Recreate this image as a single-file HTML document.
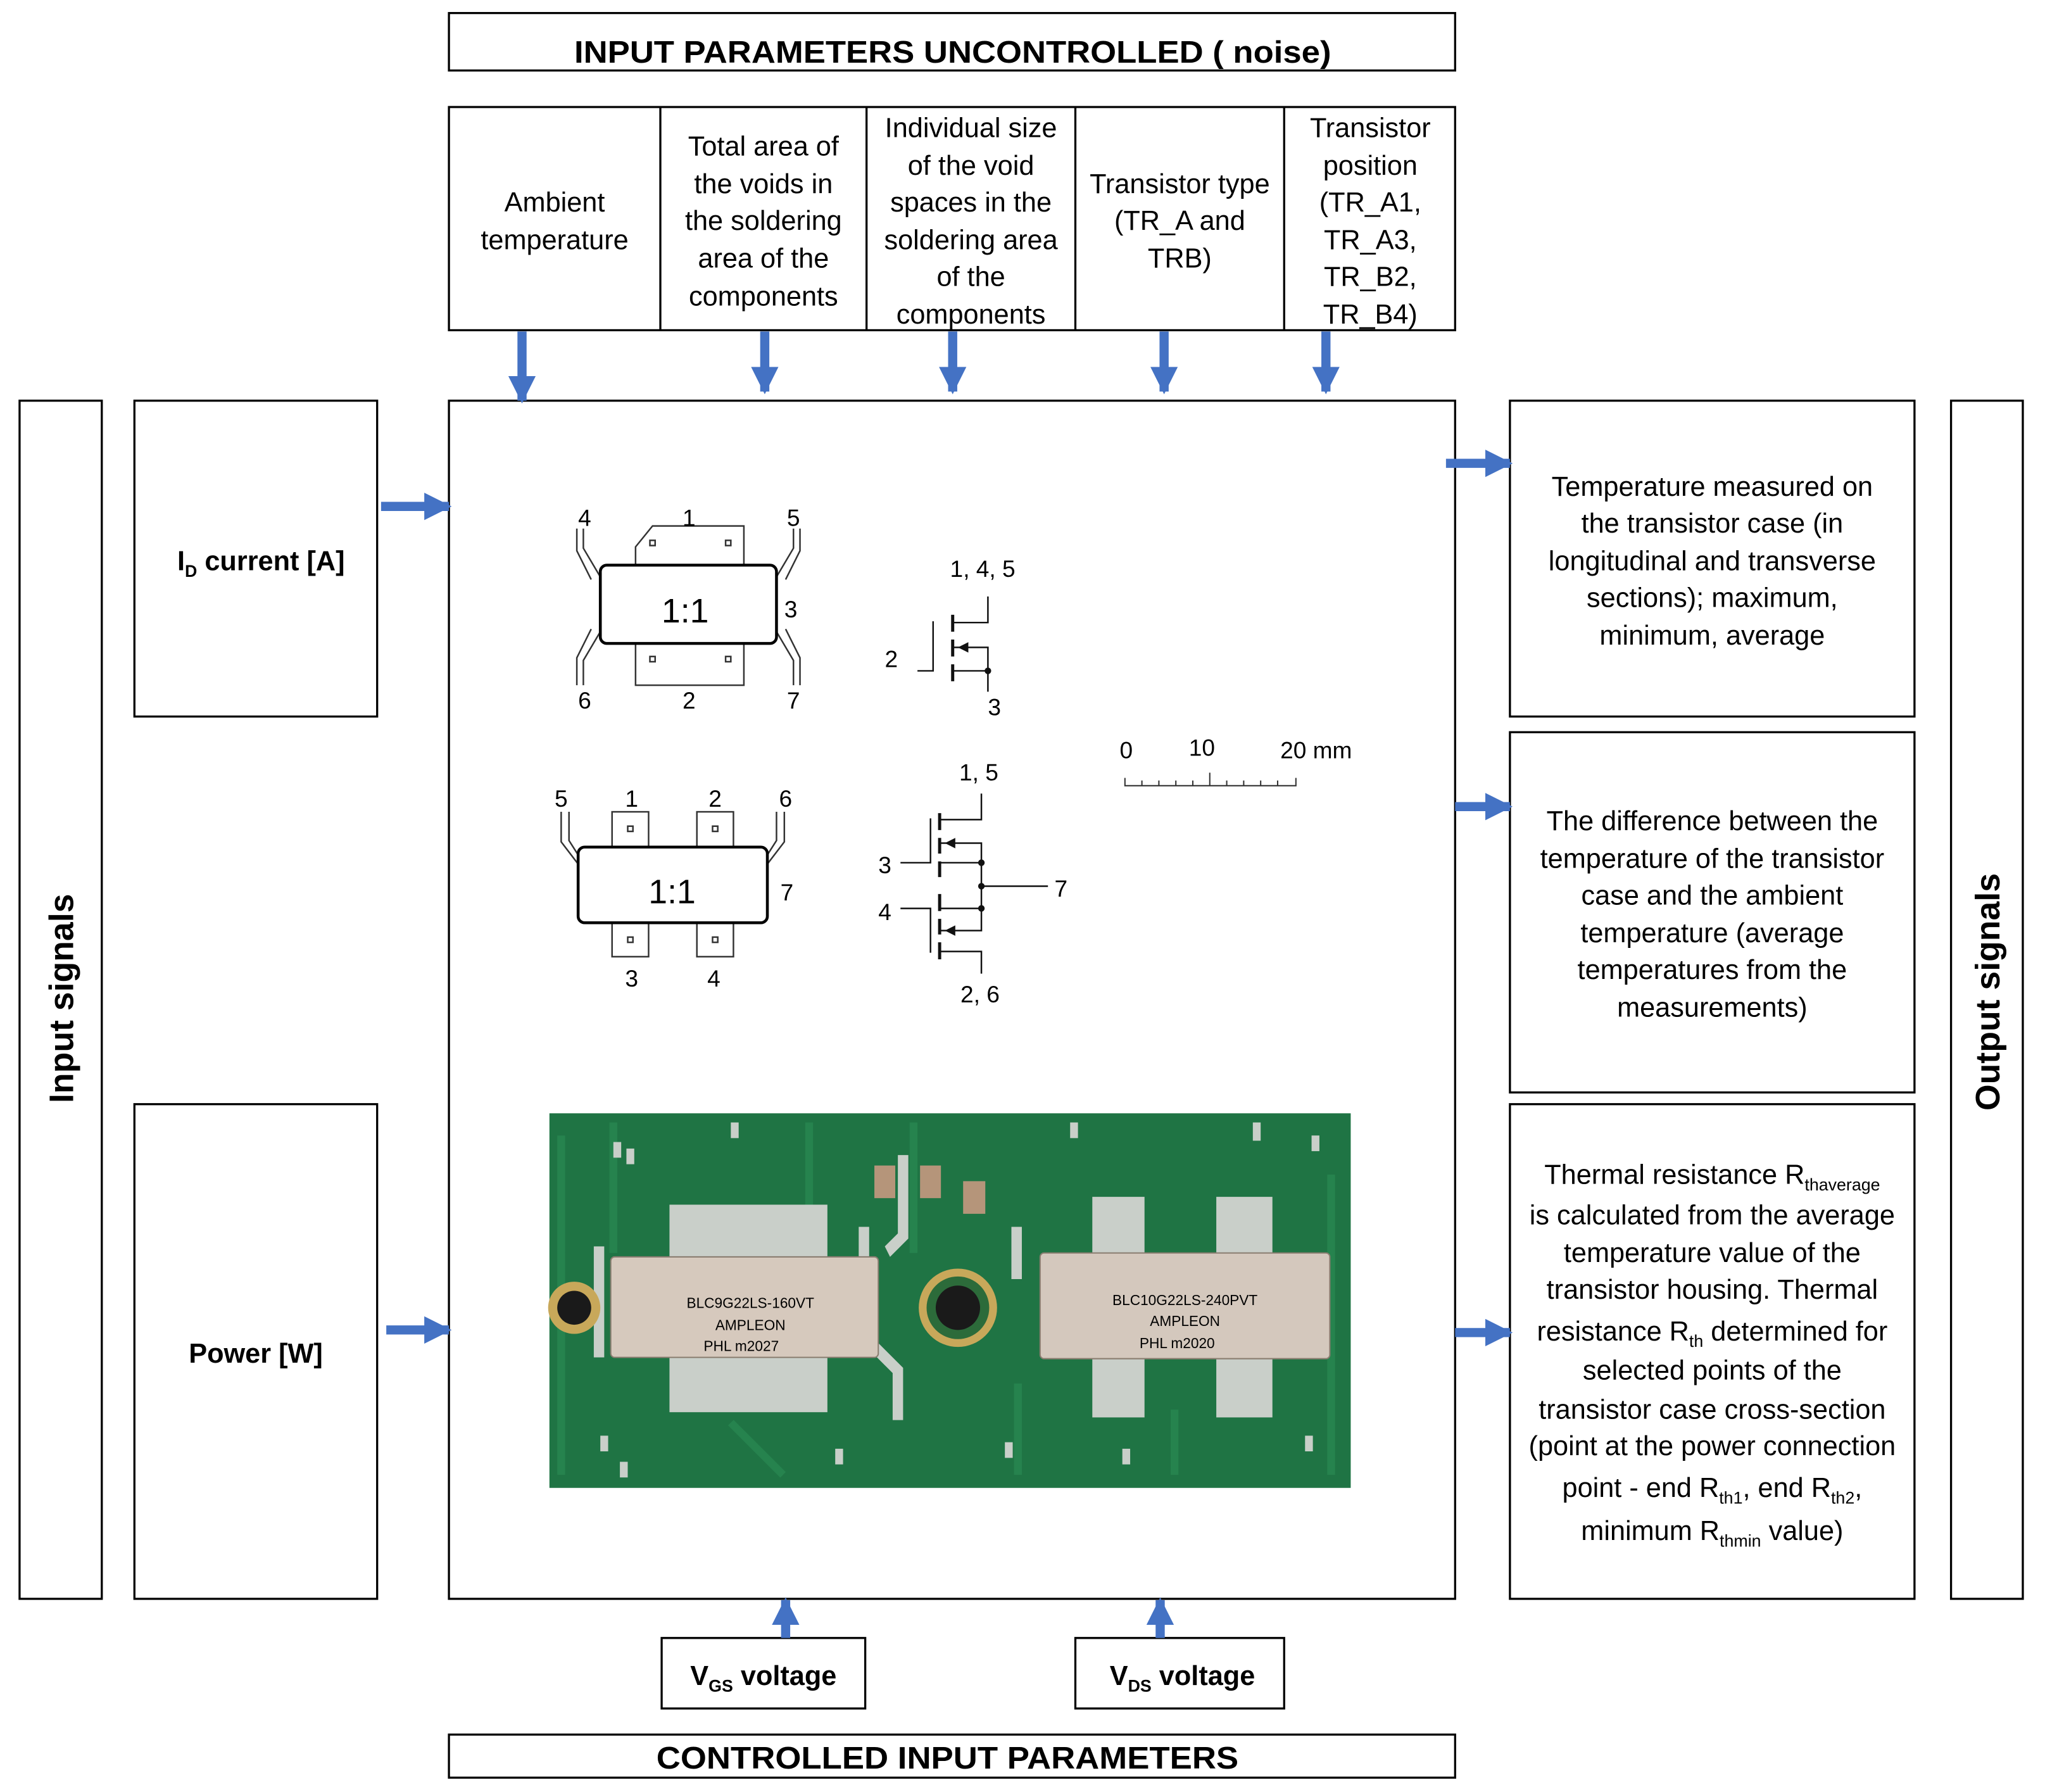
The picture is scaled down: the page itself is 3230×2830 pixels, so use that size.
<!DOCTYPE html>
<html><head><meta charset="utf-8"><style>
html,body{margin:0;padding:0;background:#fff}
svg{display:block}
text{font-family:"Liberation Sans",Arial,sans-serif;fill:#000}
</style></head><body>
<svg width="3230" height="2830" viewBox="0 0 1567 1373" preserveAspectRatio="none" xmlns="http://www.w3.org/2000/svg">
<defs>
<marker id="ah" viewBox="0 0 10 10" refX="9" refY="5" markerWidth="3" markerHeight="3" orient="auto" markerUnits="strokeWidth">
<path d="M0,0 L10,5 L0,10 z" fill="#4472C4"/></marker>
</defs>
<g fill="none" stroke="#000" stroke-width="1.6">
<rect x="344" y="10" width="771" height="44"/>
<rect x="344" y="82" width="771" height="171"/>
<line x1="506" y1="82" x2="506" y2="253"/>
<line x1="664" y1="82" x2="664" y2="253"/>
<line x1="824" y1="82" x2="824" y2="253"/>
<line x1="984" y1="82" x2="984" y2="253"/>
<rect x="344" y="307" width="771" height="918"/>
<rect x="15" y="307" width="63" height="918"/>
<rect x="103" y="307" width="186" height="242"/>
<rect x="103" y="846" width="186" height="379"/>
<rect x="1157" y="307" width="310" height="242"/>
<rect x="1157" y="561" width="310" height="276"/>
<rect x="1157" y="846" width="310" height="379"/>
<rect x="1495" y="307" width="55" height="918"/>
<rect x="507" y="1255" width="156" height="54"/>
<rect x="824" y="1255" width="160" height="54"/>
<rect x="344" y="1329" width="771" height="33"/>
</g>
<g stroke="#4472C4" stroke-width="7" fill="none" marker-end="url(#ah)">
<line x1="400" y1="254" x2="400" y2="307"/>
<line x1="586" y1="254" x2="586" y2="300"/>
<line x1="730" y1="254" x2="730" y2="300"/>
<line x1="892" y1="254" x2="892" y2="300"/>
<line x1="1016" y1="254" x2="1016" y2="300"/>
<line x1="292" y1="388" x2="344" y2="388"/>
<line x1="296" y1="1019" x2="344" y2="1019"/>
<line x1="1108" y1="355" x2="1157" y2="355"/>
<line x1="1115" y1="618" x2="1157" y2="618"/>
<line x1="1115" y1="1021" x2="1157" y2="1021"/>
<line x1="602" y1="1255" x2="602" y2="1226"/>
<line x1="889" y1="1255" x2="889" y2="1226"/>
</g>
<text x="730" y="48" font-size="24" font-weight="bold" text-anchor="middle" textLength="580" lengthAdjust="spacingAndGlyphs">INPUT PARAMETERS UNCONTROLLED ( noise)</text>
<text x="726" y="1355" font-size="24" font-weight="bold" text-anchor="middle" textLength="446" lengthAdjust="spacingAndGlyphs">CONTROLLED INPUT PARAMETERS</text>
<g font-size="21" text-anchor="middle">
<text x="425" y="162">Ambient</text><text x="425" y="191">temperature</text>
<text x="585" y="119">Total area of</text><text x="585" y="148">the voids in</text><text x="585" y="176">the soldering</text><text x="585" y="205">area of the</text><text x="585" y="234">components</text>
<text x="744" y="105">Individual size</text><text x="744" y="134">of the void</text><text x="744" y="162">spaces in the</text><text x="744" y="191">soldering area</text><text x="744" y="219">of the</text><text x="744" y="248">components</text>
<text x="904" y="148">Transistor type</text><text x="904" y="176">(TR_A and</text><text x="904" y="205">TRB)</text>
<text x="1050" y="105">Transistor</text><text x="1050" y="134">position</text><text x="1050" y="162">(TR_A1,</text><text x="1050" y="191">TR_A3,</text><text x="1050" y="219">TR_B2,</text><text x="1050" y="248">TR_B4)</text>
<text x="1312" y="380">Temperature measured on</text><text x="1312" y="408">the transistor case (in</text><text x="1312" y="437">longitudinal and transverse</text><text x="1312" y="465">sections); maximum,</text><text x="1312" y="494">minimum, average</text>
<text x="1312" y="636">The difference between the</text><text x="1312" y="665">temperature of the transistor</text><text x="1312" y="693">case and the ambient</text><text x="1312" y="722">temperature (average</text><text x="1312" y="750">temperatures from the</text><text x="1312" y="779">measurements)</text>
<text x="1312" y="907">Thermal resistance R<tspan font-size="13" dy="5">thaverage</tspan></text>
<text x="1312" y="938">is calculated from the average</text><text x="1312" y="967">temperature value of the</text><text x="1312" y="995">transistor housing. Thermal</text>
<text x="1312" y="1027">resistance R<tspan font-size="13" dy="5">th</tspan><tspan dy="-5"> determined for</tspan></text>
<text x="1312" y="1057">selected points of the</text><text x="1312" y="1087">transistor case cross-section</text><text x="1312" y="1115">(point at the power connection</text>
<text x="1312" y="1147">point - end R<tspan font-size="13" dy="5">th1</tspan><tspan dy="-5">, end R</tspan><tspan font-size="13" dy="5">th2</tspan><tspan dy="-5">,</tspan></text>
<text x="1312" y="1180">minimum R<tspan font-size="13" dy="5">thmin</tspan><tspan dy="-5"> value)</tspan></text>
</g>
<g font-size="21" font-weight="bold" text-anchor="middle">
<text x="200" y="437">I<tspan font-size="13" dy="5">D</tspan><tspan dy="-5"> current [A]</tspan></text>
<text x="196" y="1044">Power [W]</text>
<text x="585" y="1291">V<tspan font-size="13" dy="5">GS</tspan><tspan dy="-5"> voltage</tspan></text>
<text x="906" y="1291">V<tspan font-size="13" dy="5">DS</tspan><tspan dy="-5"> voltage</tspan></text>
</g>
<text transform="translate(56,765) rotate(-90)" font-size="26" font-weight="bold" text-anchor="middle">Input signals</text>
<text transform="translate(1532,760) rotate(-90)" font-size="26" font-weight="bold" text-anchor="middle">Output signals</text>

<g fill="none" stroke="#333" stroke-width="1.2">
<path d="M487,433 L487,419 L500,403 L570,403 L570,433"/>
<rect x="487" y="493" width="83" height="32"/>
<rect x="498" y="414" width="4" height="4"/><rect x="556" y="414" width="4" height="4"/>
<rect x="498" y="503" width="4" height="4"/><rect x="556" y="503" width="4" height="4"/>
<path d="M460,442 L447,420 L447,405 M453,444 L442,422 L442,405"/>
<path d="M595,442 L608,420 L608,405 M602,444 L613,422 L613,405"/>
<path d="M460,484 L447,506 L447,525 M453,482 L442,504 L442,525"/>
<path d="M595,484 L608,506 L608,525 M602,482 L613,504 L613,525"/>
<rect x="460" y="433" width="135" height="60" rx="5" stroke="#000" stroke-width="2.2"/>
</g>
<g font-size="18" text-anchor="middle">
<text x="448" y="403">4</text><text x="528" y="403">1</text><text x="608" y="403">5</text>
<text x="606" y="473">3</text><text x="448" y="543">6</text><text x="528" y="543">2</text><text x="608" y="543">7</text>
<text x="525" y="477" font-size="26">1:1</text>
</g>
<g fill="none" stroke="#333" stroke-width="1.2">
<rect x="469" y="622" width="28" height="27"/><rect x="534" y="622" width="28" height="27"/>
<rect x="469" y="707" width="28" height="26"/><rect x="534" y="707" width="28" height="26"/>
<rect x="481" y="633" width="4" height="4"/><rect x="546" y="633" width="4" height="4"/>
<rect x="481" y="718" width="4" height="4"/><rect x="546" y="718" width="4" height="4"/>
<path d="M443,662 L430,645 L430,622 M443,655 L436,644 L436,622"/>
<path d="M588,662 L601,645 L601,622 M588,655 L595,644 L595,622"/>
<rect x="443" y="649" width="145" height="58" rx="5" stroke="#000" stroke-width="2.2"/>
</g>
<g font-size="18" text-anchor="middle">
<text x="430" y="618">5</text><text x="484" y="618">1</text><text x="548" y="618">2</text><text x="602" y="618">6</text>
<text x="603" y="690">7</text><text x="484" y="756">3</text><text x="547" y="756">4</text>
<text x="515" y="692" font-size="26">1:1</text>
</g>
<g fill="none" stroke="#111" stroke-width="1.2">
<path d="M703,514 L715,514 L715,476"/>
<path d="M730,471 L730,484 M730,490 L730,503 M730,509 L730,522" stroke-width="2.4"/>
<path d="M730,477 L757,477 L757,457"/>
<path d="M730,496 L757,496 L757,514 L730,514 M757,514 L757,530"/>
</g>
<path d="M734,496 L742,492 L742,500 z" fill="#111"/>
<circle cx="757" cy="514" r="2.5" fill="#111"/>
<g font-size="18" text-anchor="middle">
<text x="753" y="442">1, 4, 5</text><text x="683" y="511">2</text><text x="762" y="548">3</text>
</g>
<g fill="none" stroke="#111" stroke-width="1.2">
<path d="M690,661 L713,661 L713,627"/>
<path d="M720,623 L720,636 M720,642 L720,654 M720,660 L720,672" stroke-width="2.4"/>
<path d="M720,628 L752,628 L752,608"/>
<path d="M720,646 L752,646 L752,661 L720,661 M752,661 L752,696 M752,679 L803,679"/>
<path d="M690,696 L713,696 L713,730"/>
<path d="M720,685 L720,698 M720,704 L720,716 M720,722 L720,735" stroke-width="2.4"/>
<path d="M720,696 L752,696 M720,713 L752,713 L752,696 M720,729 L752,729 L752,746"/>
</g>
<path d="M724,646 L732,642 L732,650 z M724,713 L732,709 L732,717 z" fill="#111"/>
<circle cx="752" cy="661" r="2.5" fill="#111"/><circle cx="752" cy="679" r="2.5" fill="#111"/><circle cx="752" cy="696" r="2.5" fill="#111"/>
<g font-size="18" text-anchor="middle">
<text x="750" y="598">1, 5</text><text x="678" y="669">3</text><text x="813" y="687">7</text><text x="678" y="705">4</text><text x="751" y="768">2, 6</text>
</g>
<g font-size="18">
<text x="858" y="581">0</text><text x="911" y="579">10</text><text x="981" y="581">20 mm</text>
</g>
<g stroke="#333" stroke-width="1" fill="none">
<path d="M862,596 L862,602 L993,602 L993,596"/>
<path d="M875,598 V602 M888,598 V602 M901,598 V602 M914,598 V602 M927,592 V602 M940,598 V602 M953,598 V602 M966,598 V602 M979,598 V602"/>
</g>
<g>
<rect x="421" y="853" width="614" height="287" fill="#1f7444"/>
<g stroke="#2a8a52" stroke-width="6" fill="none" opacity="0.7">
<path d="M430,870 L430,1130 M470,860 L470,960 M700,860 L700,960 M780,1060 L780,1130 M900,1080 L900,1130 M1020,900 L1020,1130 M620,860 L620,930 M560,1090 L600,1130"/>
</g>
<g fill="#c9cfc9">
<rect x="513" y="923" width="121" height="42"/><rect x="513" y="1038" width="121" height="44"/>
<rect x="837" y="917" width="40" height="45"/><rect x="932" y="917" width="43" height="45"/>
<rect x="837" y="1040" width="40" height="46"/><rect x="932" y="1040" width="43" height="46"/>
<path d="M455,955 h8 v85 h-8z M658,940 h8 v90 h-8z M672,1028 l20,20 v40 h-8 v-36 l-16-16z M678,955 l10,-10 v-60 h8 v64 l-14,14z M775,940 h8 v40 h-8z"/>
<rect x="470" y="875" width="6" height="12"/><rect x="480" y="880" width="6" height="12"/><rect x="560" y="860" width="6" height="12"/>
<rect x="820" y="860" width="6" height="12"/><rect x="960" y="860" width="6" height="14"/><rect x="1005" y="870" width="6" height="12"/>
<rect x="460" y="1100" width="6" height="12"/><rect x="475" y="1120" width="6" height="12"/><rect x="640" y="1110" width="6" height="12"/>
<rect x="770" y="1105" width="6" height="12"/><rect x="860" y="1110" width="6" height="12"/><rect x="1000" y="1100" width="6" height="12"/>
</g>
<g fill="#b5957a"><rect x="670" y="893" width="16" height="25"/><rect x="705" y="893" width="16" height="25"/><rect x="738" y="905" width="17" height="25"/></g>
<rect x="468" y="963" width="205" height="77" rx="3" fill="#d6c9bd" stroke="#8a7d70"/>
<rect x="797" y="960" width="222" height="81" rx="3" fill="#d4c8bd" stroke="#8a7d70"/>
<g font-size="11" text-anchor="middle">
<text x="575" y="1002" fill="#9a8c80">BLC9G22LS-160VT</text><text x="575" y="1019" fill="#9a8c80">AMPLEON</text><text x="568" y="1035" fill="#9a8c80">PHL m2027</text>
<text x="908" y="1000" fill="#9a8c80">BLC10G22LS-240PVT</text><text x="908" y="1016" fill="#9a8c80">AMPLEON</text><text x="902" y="1033" fill="#9a8c80">PHL m2020</text>
</g>
<circle cx="440" cy="1002" r="20" fill="#c8a85a"/><circle cx="440" cy="1002" r="13" fill="#1a1a1a"/>
<circle cx="734" cy="1002" r="30" fill="#c8a85a"/><circle cx="734" cy="1002" r="24" fill="#2c6b3a"/><circle cx="734" cy="1002" r="17" fill="#1a1a1a"/>
</g>
</svg>
</body></html>
